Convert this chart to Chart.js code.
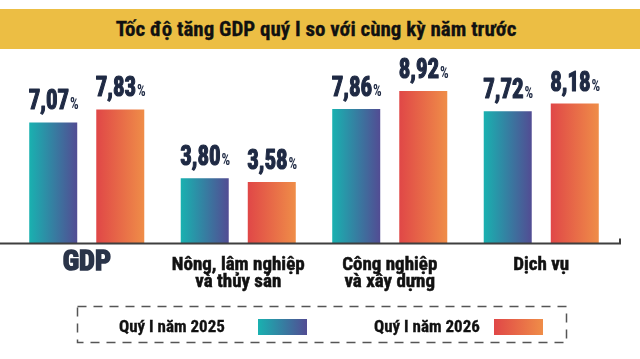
<!DOCTYPE html>
<html>
<head>
<meta charset="utf-8">
<script src="https://cdn.jsdelivr.net/npm/chart.js@4.4.1/dist/chart.umd.min.js"></script>
<style>
  html, body { margin: 0; padding: 0; background: #fff; }
  #wrap {
    position: relative; width: 640px; height: 359px; overflow: hidden;
    font-family: "Liberation Sans Narrow", "Arial Narrow", "Roboto Condensed", sans-serif;
    font-weight: bold;
  }
  #chart { position: absolute; left: 0; top: 0; }
  #title {
    position: absolute; left: 0; top: 9px; width: 640px; height: 40px;
    line-height: 40px; background: #ecbe44; color: #111;
    font-size: 21px; text-align: center; text-indent: -8px;
    -webkit-text-stroke: 0.3px #111;
  }
  #legendBox { position: absolute; left: 0; top: 0; }
  .leg-text { position: absolute; top: 316px; font-size: 17px; line-height: 20px; color: #111; white-space: nowrap; -webkit-text-stroke: 0.3px #111; }
  .swatch { position: absolute; top: 319px; width: 49px; height: 16px; }
</style>
</head>
<body>
<div id="wrap">
  <canvas id="chart" width="640" height="359"></canvas>
  <div id="title">Tốc độ tăng GDP quý I so với cùng kỳ năm trước</div>
  <svg id="legendBox" width="640" height="359">
    <rect x="77.5" y="306.5" width="489" height="36" fill="none" stroke="#555" stroke-width="1.5" stroke-dasharray="9 7"></rect>
  </svg>
  <div class="leg-text" id="leg0" style="left:119px"></div>
  <div class="swatch" style="left:258px;background:linear-gradient(to right,#19b1b0,#524c93)"></div>
  <div class="leg-text" id="leg1" style="left:374px"></div>
  <div class="swatch" style="left:494px;background:linear-gradient(to right,#e04747,#ef8d48)"></div>
</div>
<script>
const categories = [["GDP"], ["Nông, lâm nghiệp", "và thủy sản"], ["Công nghiệp", "và xây dựng"], ["Dịch vụ"]];
const seriesLabels = ["Quý I năm 2025", "Quý I năm 2026"];
const q1_2025 = [7.07, 3.80, 7.86, 7.72];
const q1_2026 = [7.83, 3.58, 8.92, 8.18];

const FONT = '"Liberation Sans Narrow", "Arial Narrow", "Roboto Condensed", sans-serif';
const CAT_PCT = 0.885;
const BAR_PCT = 0.716;
const SX = 0.85; // extra squeeze for the big value labels

document.getElementById("leg0").textContent = seriesLabels[0];
document.getElementById("leg1").textContent = seriesLabels[1];

// horizontal gradient across one bar, bar position taken from the x scale
function barGradient(c, from, to) {
  const chart = c.chart;
  const xs = chart.scales.x;
  if (!chart.chartArea || !xs || c.type !== "data") return from;
  const slot = (xs.width / categories.length) * CAT_PCT / 2;
  const center = xs.getPixelForValue(c.dataIndex) + (c.datasetIndex - 0.5) * slot;
  const half = slot * BAR_PCT / 2;
  const g = chart.ctx.createLinearGradient(center - half, 0, center + half, 0);
  g.addColorStop(0, from);
  g.addColorStop(1, to);
  return g;
}

const valueLabels = {
  id: "valueLabels",
  afterDatasetsDraw(chart) {
    const ctx = chart.ctx;
    chart.data.datasets.forEach((ds, di) => {
      chart.getDatasetMeta(di).data.forEach((bar, i) => {
        const num = ds.data[i].toFixed(2).replace(".", ",");
        ctx.save();
        ctx.fillStyle = "#1f2a44";
        ctx.strokeStyle = "#1f2a44";
        ctx.lineWidth = 1.2;
        ctx.lineJoin = "round";
        ctx.textBaseline = "alphabetic";
        ctx.font = "bold 27px " + FONT;
        const w1 = ctx.measureText(num).width * SX;
        ctx.font = "bold 16px " + FONT;
        const w2 = ctx.measureText("%").width * SX;
        ctx.translate(bar.x - (w1 + w2) / 2, bar.y - 13);
        ctx.scale(SX, 1);
        ctx.font = "bold 27px " + FONT;
        ctx.fillText(num, 0, 0);
        ctx.strokeText(num, 0, 0);
        ctx.font = "bold 16px " + FONT;
        ctx.fillText("%", w1 / SX + 1, 0);
        ctx.restore();
      });
    });
  }
};

const axisLine = {
  id: "axisLine",
  afterDatasetsDraw(chart) {
    const ctx = chart.ctx;
    const y = chart.scales.y.getPixelForValue(0) + 0.5;
    const right = chart.chartArea.right + 3;
    ctx.save();
    ctx.strokeStyle = "#3f3f3f";
    ctx.lineWidth = 2;
    ctx.beginPath();
    ctx.moveTo(0, y);
    ctx.lineTo(right, y);
    ctx.lineTo(right, y - 5);
    ctx.stroke();
    ctx.restore();
  }
};

new Chart(document.getElementById("chart"), {
  type: "bar",
  data: {
    labels: categories,
    datasets: [
      {
        label: seriesLabels[0],
        data: q1_2025,
        backgroundColor: (c) => barGradient(c, "#19b1b0", "#524c93")
      },
      {
        label: seriesLabels[1],
        data: q1_2026,
        backgroundColor: (c) => barGradient(c, "#e04747", "#ef8d48")
      }
    ]
  },
  options: {
    responsive: false,
    animation: false,
    devicePixelRatio: 1,
    categoryPercentage: CAT_PCT,
    barPercentage: BAR_PCT,
    layout: { padding: { left: 11, right: 23, top: 72.5, bottom: 0 } },
    plugins: { legend: { display: false }, tooltip: { enabled: false } },
    scales: {
      y: { display: false, min: 0, max: 10 },
      x: {
        grid: { display: false, drawTicks: false },
        border: { display: false },
        afterFit(scale) { scale.height = 116; },
        ticks: {
          padding: 14,
          maxRotation: 0,
          autoSkip: false,
          color: (c) => (c.index === 0 ? "#2a3449" : "#111"),
          textStrokeColor: (c) => (c.index === 0 ? "#2a3449" : "#111"),
          textStrokeWidth: (c) => (c.index === 0 ? 1.6 : 0.5),
          font: (c) => (c.index === 0
            ? { family: FONT, size: 28, weight: "bold", lineHeight: "11px" }
            : { family: FONT, size: 19, weight: "bold", lineHeight: "17px" })
        }
      }
    }
  },
  plugins: [valueLabels, axisLine]
});
</script>
</body>
</html>
